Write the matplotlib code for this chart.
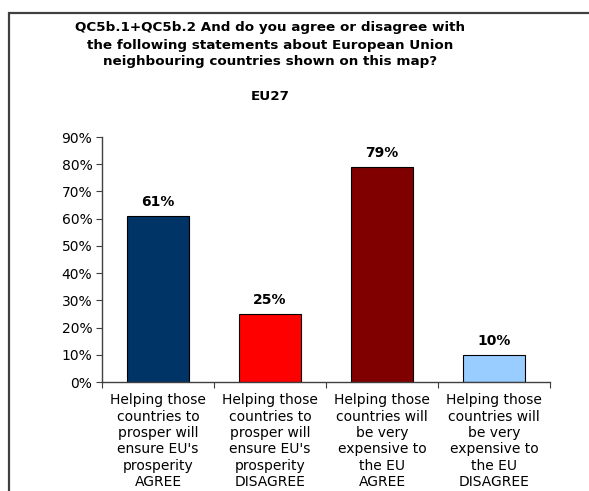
import matplotlib
matplotlib.use("Agg")
import matplotlib.pyplot as plt
from matplotlib.patches import Rectangle
import numpy as np

categories = [
    "Helping those\ncountries to\nprosper will\nensure EU's\nprosperity\nAGREE",
    "Helping those\ncountries to\nprosper will\nensure EU's\nprosperity\nDISAGREE",
    "Helping those\ncountries will\nbe very\nexpensive to\nthe EU\nAGREE",
    "Helping those\ncountries will\nbe very\nexpensive to\nthe EU\nDISAGREE",
]
values = [61, 25, 79, 10]
colors = ["#003366", "#FF0000", "#800000", "#99CCFF"]
title = ("QC5b.1+QC5b.2 And do you agree or disagree with\n"
         "the following statements about European Union\n"
         "neighbouring countries shown on this map?")
subtitle = "EU27"

W, H = 589, 491
fig = plt.figure(figsize=(W / 100, H / 100), dpi=100)
fig.patch.set_facecolor("white")

# outer frame
fig.patches.append(Rectangle((9 / W, -0.1), 1.2, (H - 13) / H + 0.1, transform=fig.transFigure,
                             fill=False, edgecolor="#404040", linewidth=1.6))

fig.text(270 / W, 1 - 45 / H, title, ha="center", va="center", fontsize=9.7,
         fontweight="bold", linespacing=1.4)
fig.text(270 / W, 1 - 97 / H, subtitle, ha="center", va="center", fontsize=9.7,
         fontweight="bold")

ax = fig.add_axes([102 / W, 1 - 382 / H, 448 / W, 245 / H])
x = np.arange(len(values))
ax.bar(x, values, width=0.56, color=colors, edgecolor="black", linewidth=0.8)
ax.set_xlim(-0.5, len(values) - 0.5)
ax.set_ylim(0, 90)
ax.set_yticks(np.arange(0, 91, 10))
ax.set_yticklabels([f"{v}%" for v in range(0, 91, 10)], fontsize=10)
ax.set_xticks(np.arange(-0.5, len(values), 1.0))
ax.set_xticklabels([])
ax.set_xticks(x, minor=True)
ax.set_xticklabels(categories, minor=True, fontsize=10, linespacing=1.22)
ax.tick_params(axis="x", which="minor", length=0, pad=8)
ax.tick_params(axis="x", which="major", length=4, direction="out", color="#404040")
ax.tick_params(axis="y", length=4, direction="out", color="#404040", pad=3)
for s in ["top", "right"]:
    ax.spines[s].set_visible(False)
for s in ["left", "bottom"]:
    ax.spines[s].set_color("#404040")
    ax.spines[s].set_linewidth(1.0)

for xi, v in zip(x, values):
    ax.annotate(f"{v}%", (xi, v), xytext=(0, 5), textcoords="offset points",
                ha="center", va="bottom", fontsize=10, fontweight="bold")

fig.savefig("out.png", dpi=100, facecolor="white")
